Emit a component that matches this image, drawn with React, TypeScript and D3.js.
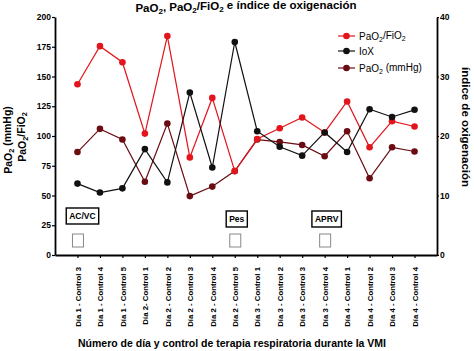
import React, { useRef, useEffect } from "react";
import * as d3 from "d3";

const categories = [
    "Día 1 - Control 3", "Día 1 - Control 4", "Día 1 - Control 5",
    "Día 2- Control 1", "Día 2 - Control 2", "Día 2 - Control 3", "Día 2 - Control 4", "Día 2 - Control 5",
    "Día 3 - Control 1", "Día 3 - Control 2", "Día 3 - Control 3", "Día 3 - Control 4",
    "Día 4 - Control 1", "Día 4 - Control 2", "Día 4 - Control 3", "Día 4 - Control 4",
];

// left axis (mmHg)
const pafiValues = [143.5, 175.5, 162, 102, 184, 82, 132, 70.5, 97.5, 106.5, 115.5, 103, 129, 90.5, 112.5, 108];
const pao2Values = [86.5, 106, 97, 61.5, 110.5, 49.5, 57.5, 70.5, 97, 95, 92.5, 83, 104, 64.5, 90.5, 87];
// right axis
const ioxValues = [12, 10.5, 11.2, 17.8, 12.2, 27.3, 14.7, 35.8, 20.8, 18.2, 16.7, 20.6, 17.3, 24.5, 23.2, 24.4];

const leftTicks = [0, 25, 50, 75, 100, 125, 150, 175, 200];
const rightTicks = [0, 10, 20, 30, 40];

const modes = [
    { label: "AC/VC", index: 0 },
    { label: "Pes", index: 7 },
    { label: "APRV", index: 11 },
];

const RED = "#e3141b";
const DARK = "#6a0c12";
const BLACK = "#111111";

// text parts: [text, isSubscript]
type Part = [string, boolean];
const PAO2: Part[] = [["PaO", false], ["2", true]];
const PAFI: Part[] = [["PaO", false], ["2", true], ["/FiO", false], ["2", true]];

function addParts(sel: d3.Selection<SVGTextElement, unknown, null, undefined>, parts: Part[]) {
    let sub = false;
    parts.forEach(([t, s]) => {
        const ts = sel.append("tspan").text(t);
        if (s && !sub) ts.attr("dy", "0.3em").attr("font-size", "0.7em");
        else if (s) ts.attr("font-size", "0.7em");
        else if (sub) ts.attr("dy", "-0.3em");
        sub = s;
    });
}

export default function App() {
    const ref = useRef<SVGSVGElement>(null);

    useEffect(() => {
        document.body.style.margin = "0";
        const svg = d3.select(ref.current);
        svg.selectAll("*").remove();

        const left = 55, right = 437, top = 17, bottom = 255;
        const x = d3.scalePoint<string>().domain(categories).range([left, right]).padding(1);
        const yL = d3.scaleLinear().domain([0, 200]).range([bottom, top]);
        const yR = d3.scaleLinear().domain([0, 40]).range([bottom, top]);

        const font = "'Liberation Sans', Arial, sans-serif";
        svg.attr("font-family", font);

        // title
        const title = svg.append("text")
            .attr("x", 246).attr("y", 12)
            .attr("text-anchor", "middle")
            .attr("font-size", 11.5).attr("font-weight", "bold");
        addParts(title, [...PAO2, [", ", false], ...PAFI, [" e índice de oxigenación", false]]);

        // axes
        const axL = svg.append("g").attr("transform", `translate(${left},0)`)
            .call(d3.axisLeft(yL).tickValues(leftTicks).tickSize(3).tickPadding(1).tickSizeOuter(0));
        const axR = svg.append("g").attr("transform", `translate(${right},0)`)
            .call(d3.axisRight(yR).tickValues(rightTicks).tickSize(2).tickPadding(1).tickSizeOuter(0));
        const axB = svg.append("g").attr("transform", `translate(0,${bottom})`)
            .call(d3.axisBottom(x).tickSize(3).tickSizeOuter(0));

        [axL, axR, axB].forEach(a => {
            a.select(".domain").attr("stroke", "#000").attr("stroke-width", 1.8);
            a.selectAll(".tick line").attr("stroke", "#000").attr("stroke-width", 1.2);
            a.selectAll("text").attr("font-family", font).attr("font-weight", "bold").attr("fill", "#000");
        });
        axL.selectAll("text").attr("font-size", 8.5);
        axR.selectAll("text").attr("font-size", 8.5);
        axB.selectAll("text")
            .attr("font-size", 7.8)
            .attr("transform", "rotate(-90)")
            .attr("text-anchor", "end")
            .attr("x", -12).attr("y", 0).attr("dy", "0.35em");

        // axis titles
        const lt1 = svg.append("text")
            .attr("transform", `translate(12,140) rotate(-90)`)
            .attr("text-anchor", "middle").attr("font-size", 10.5).attr("font-weight", "bold");
        addParts(lt1, [...PAO2, [" (mmHg)", false]]);
        const lt2 = svg.append("text")
            .attr("transform", `translate(26,137) rotate(-90)`)
            .attr("text-anchor", "middle").attr("font-size", 10.5).attr("font-weight", "bold");
        addParts(lt2, PAFI);

        svg.append("text")
            .attr("transform", `translate(462,127) rotate(90)`)
            .attr("text-anchor", "middle").attr("font-size", 11.5).attr("font-weight", "bold")
            .text("índice de oxigenación");

        svg.append("text")
            .attr("x", 232).attr("y", 347)
            .attr("text-anchor", "middle").attr("font-size", 10.5).attr("font-weight", "bold")
            .text("Número de día y control de terapia respiratoria durante la VMI");

        // series: dark red, red, black (black on top)
        const series = [
            { values: pao2Values, y: yL, color: DARK },
            { values: pafiValues, y: yL, color: RED },
            { values: ioxValues, y: yR, color: BLACK },
        ];
        series.forEach(s => {
            const line = d3.line<number>()
                .x((_, i) => x(categories[i])!)
                .y(d => s.y(d));
            svg.append("path")
                .attr("d", line(s.values))
                .attr("fill", "none")
                .attr("stroke", s.color)
                .attr("stroke-width", 1.2);
            svg.append("g").selectAll("circle")
                .data(s.values)
                .join("circle")
                .attr("cx", (_, i) => x(categories[i])!)
                .attr("cy", d => s.y(d))
                .attr("r", 3.3)
                .attr("fill", s.color);
        });

        // legend
        const legend = [
            { parts: PAFI, color: RED },
            { parts: [["IoX", false]] as Part[], color: BLACK },
            { parts: [...PAO2, [" (mmHg)", false]] as Part[], color: DARK },
        ];
        const ly = [36, 51, 68];
        legend.forEach((l, i) => {
            const g = svg.append("g").attr("transform", `translate(338,${ly[i]})`);
            g.append("line").attr("x1", 0).attr("x2", 17).attr("stroke", l.color).attr("stroke-width", 1.2);
            g.append("circle").attr("cx", 8.5).attr("r", 3.3).attr("fill", l.color);
            const t = g.append("text").attr("x", 21).attr("y", 3.5).attr("font-size", 10);
            addParts(t, l.parts);
        });

        // ventilation mode annotations
        modes.forEach(m => {
            const cx = x(categories[m.index])!;
            const g = svg.append("g");
            const t = g.append("text")
                .attr("font-size", 8.5).attr("font-weight", "bold")
                .attr("text-anchor", "middle")
                .text(m.label);
            const w = (t.node() as SVGTextElement).getComputedTextLength();
            const bx = m.index === 0 ? cx + 5 : cx + 2;
            const by = m.index === 0 ? 216 : 219;
            t.attr("x", bx).attr("y", by + 3);
            g.insert("rect", "text")
                .attr("x", bx - w / 2 - 3).attr("y", by - 8)
                .attr("width", w + 6).attr("height", 16)
                .attr("fill", "#fff").attr("stroke", "#000").attr("stroke-width", 1.4);
            g.append("rect")
                .attr("x", cx - 5).attr("y", 234)
                .attr("width", 11).attr("height", 13)
                .attr("fill", "none").attr("stroke", "#888").attr("stroke-width", 1);
        });
    }, []);

    return <svg ref={ref} width={474} height={351} style={{ display: "block", background: "#fff" }} />;
}
